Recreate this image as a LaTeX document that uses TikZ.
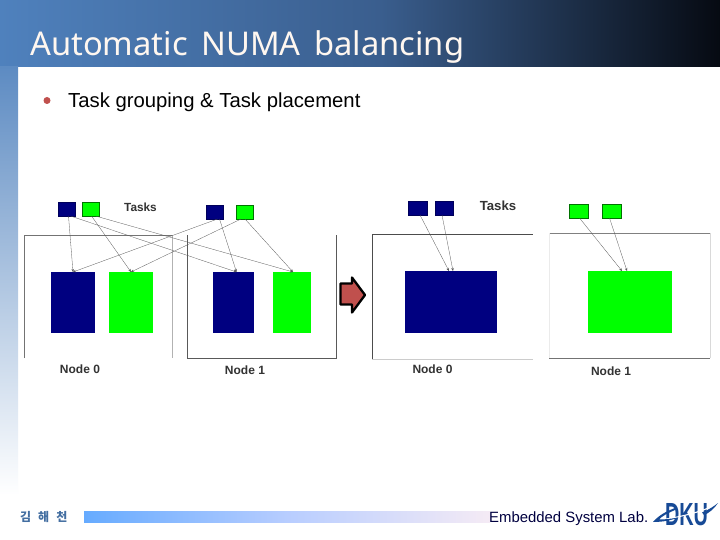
\documentclass[tikz,border=0pt]{standalone}
\usepackage{fontspec}
\setmainfont{Liberation Sans}
\newfontfamily\titlefont[WordSpace=1.6]{Noto Sans}
\newfontfamily\krfont{Noto Sans CJK KR}
\usetikzlibrary{arrows.meta}
\definecolor{barA}{HTML}{4F81BD}
\definecolor{barB}{HTML}{3A5E8E}
\definecolor{barC}{HTML}{060A12}
\definecolor{navy}{HTML}{000080}
\definecolor{lime}{HTML}{00FF00}
\definecolor{redfill}{HTML}{C0504D}
\definecolor{logoblue}{HTML}{174A96}
\tikzset{
  tasknavy/.style={rectangle,inner sep=0pt,outer sep=0pt,fill=navy,draw=navy!70!black,line width=.5pt},
  tasklime/.style={rectangle,inner sep=0pt,outer sep=0pt,fill=lime,draw=green!45!black,line width=.5pt},
  memnavy/.style={rectangle,inner sep=0pt,outer sep=0pt,fill=navy},
  memlime/.style={rectangle,inner sep=0pt,outer sep=0pt,fill=lime},
  flow/.style={draw=black!65,line width=.3pt,-{Stealth[length=3pt,width=2.5pt]}},
  wall/.style={line width=.7pt},
  caption/.style={font=\fontsize{12}{13}\selectfont\bfseries,text=black!80,inner sep=0pt},
}
\begin{document}
\begin{tikzpicture}[x=1pt,y=-1pt]
\useasboundingbox (0,0) rectangle (720,540);
\fill[white] (0,0) rectangle (720,540);
% background
\shade[left color=barA,right color=barB,shading angle=90] (0,0) rectangle (380,67);
\shade[left color=barB,right color=barC] (380,0) rectangle (720,67);
\shade[top color=barA!92!white,bottom color=white] (0,67) rectangle (18,495);
% title and bullet
\node[anchor=base west,inner sep=0pt,text=white!94!orange,font=\titlefont\fontsize{32.7}{36}\selectfont] (title) at (30,55.5) {Automatic NUMA balancing};
\fill[redfill] (47,100.5) circle (3.5);
\node[anchor=base west,inner sep=0pt,font=\fontsize{20.3}{23}\selectfont] (head) at (68,107.5) {Task grouping \& Task placement};
% left diagram walls
\draw[wall,black!55] (24,358) -- (24,235) -- (172,235);
\draw[wall,black!30] (172,235) -- (172,358);
\draw[wall,black!65] (187,235) -- (187,358) -- (336,358) -- (336,235);
% left diagram
\node[tasknavy,minimum width=17pt,minimum height=14pt] (t1) at (66.5,209) {};
\node[tasklime,minimum width=17pt,minimum height=14pt] (t2) at (90.5,209) {};
\node[tasknavy,minimum width=17pt,minimum height=14pt] (t3) at (214.5,212) {};
\node[tasklime,minimum width=17pt,minimum height=14pt] (t4) at (245,212) {};
\node[memnavy,minimum width=44pt,minimum height=61pt] (m1) at (73,302.5) {};
\node[memlime,minimum width=44pt,minimum height=61pt] (m2) at (131,302.5) {};
\node[memnavy,minimum width=41pt,minimum height=61pt] (m3) at (233.5,302.5) {};
\node[memlime,minimum width=38pt,minimum height=61pt] (m4) at (292,302.5) {};
\draw[flow] ([xshift=2pt]t1.south) -- (m1.north);
\draw[flow] ([xshift=4pt]t1.south) -- ([xshift=3pt]m3.north);
\draw[flow] ([xshift=1pt]t2.south) -- (m2.north);
\draw[flow] ([xshift=5pt]t2.south) -- ([xshift=1pt]m4.north);
\draw[flow] ([xshift=3pt]t3.south) -- (m1.north);
\draw[flow] ([xshift=5pt]t3.south) -- ([xshift=3pt]m3.north);
\draw[flow] ([xshift=-4pt]t4.south) -- (m2.north);
\draw[flow] ([xshift=0pt]t4.south) -- ([xshift=1pt]m4.north);
\node[caption,font=\fontsize{11.8}{13}\selectfont\bfseries] (l1) at (140.5,207.5) {Tasks};
\node[caption] (n0) at (80,369) {Node 0};
\node[caption] (n1) at (245,370) {Node 1};
% central arrow
\draw[fill=redfill,draw=black,line width=2.3pt,line join=round] (340.5,283.5) -- (352,283.5) -- (352,277.5) -- (365,295) -- (352,312.5) -- (352,304.5) -- (340.5,304.5) -- cycle;
% right diagram walls
\draw[wall,black!70] (372,359) -- (372,234) -- (533,234);
\draw[wall,black!20] (372,359) -- (533,359);
\draw[wall,black!50] (549,233) -- (710,233);
\draw[wall,black!15] (710,233) -- (710,358);
\draw[wall,black!8] (549,233) -- (549,358);
\draw[wall,black!55] (549,358) -- (710,358);
% right diagram
\node[tasknavy,minimum width=19pt,minimum height=14pt] (t5) at (418,208) {};
\node[tasknavy,minimum width=18pt,minimum height=14pt] (t6) at (444,208) {};
\node[tasklime,minimum width=19pt,minimum height=14pt] (t7) at (578.5,211) {};
\node[tasklime,minimum width=19pt,minimum height=14pt] (t8) at (611.5,211) {};
\node[memnavy,minimum width=92pt,minimum height=62pt] (m5) at (451,302) {};
\node[memlime,minimum width=84pt,minimum height=62pt] (m6) at (630,302) {};
\draw[flow] ([xshift=2pt]t5.south) -- ([xshift=-2pt]m5.north);
\draw[flow] ([xshift=-2pt]t6.south) -- ([xshift=2pt]m5.north);
\draw[flow] ([xshift=1pt]t7.south) -- ([xshift=-8pt]m6.north);
\draw[flow] ([xshift=-2pt]t8.south) -- ([xshift=-3pt]m6.north);
\node[caption,font=\fontsize{13.2}{14}\selectfont\bfseries] (l2) at (498,206) {Tasks};
\node[caption] (n2) at (432.5,369) {Node 0};
\node[caption] (n3) at (611,371) {Node 1};
% footer
\shade[left color=blue!55!cyan!60!white,right color=violet!8!white,middle color=cyan!30!blue!28!white] (84,511) rectangle (490,522);
\node[anchor=base west,inner sep=0pt,text=barA!85!black,font=\krfont\bfseries\fontsize{12}{13}\selectfont] (author) at (20,521.5) {김\hspace{7pt}해\hspace{7pt}천};
\node[anchor=base west,inner sep=0pt,text=black!75!blue,font=\fontsize{14.9}{16}\selectfont] (lab) at (489,522) {Embedded System Lab.};
% logo
\node[anchor=base,inner sep=0pt,text=logoblue,xscale=.62,font=\fontsize{32}{33}\selectfont\bfseries] (dku) at (686.5,525) {DKU};
\draw[white,line width=1.1pt] (660,520) .. controls (680,517) and (703,512) .. (719,503);
\fill[logoblue] (653,522) .. controls (659,515) and (667,511) .. (675,508) -- (675,510) .. controls (668,513) and (662,516) .. (659,519.5) .. controls (665,519.5) and (670,519) .. (678,517.5) .. controls (670,521) and (660,522) .. (653,522) -- cycle;
\fill[logoblue] (702,512.5) .. controls (708,510) and (713,507) .. (718,503) .. controls (714,509) and (709,513) .. (704,515) -- cycle;
\end{tikzpicture}
\end{document}
